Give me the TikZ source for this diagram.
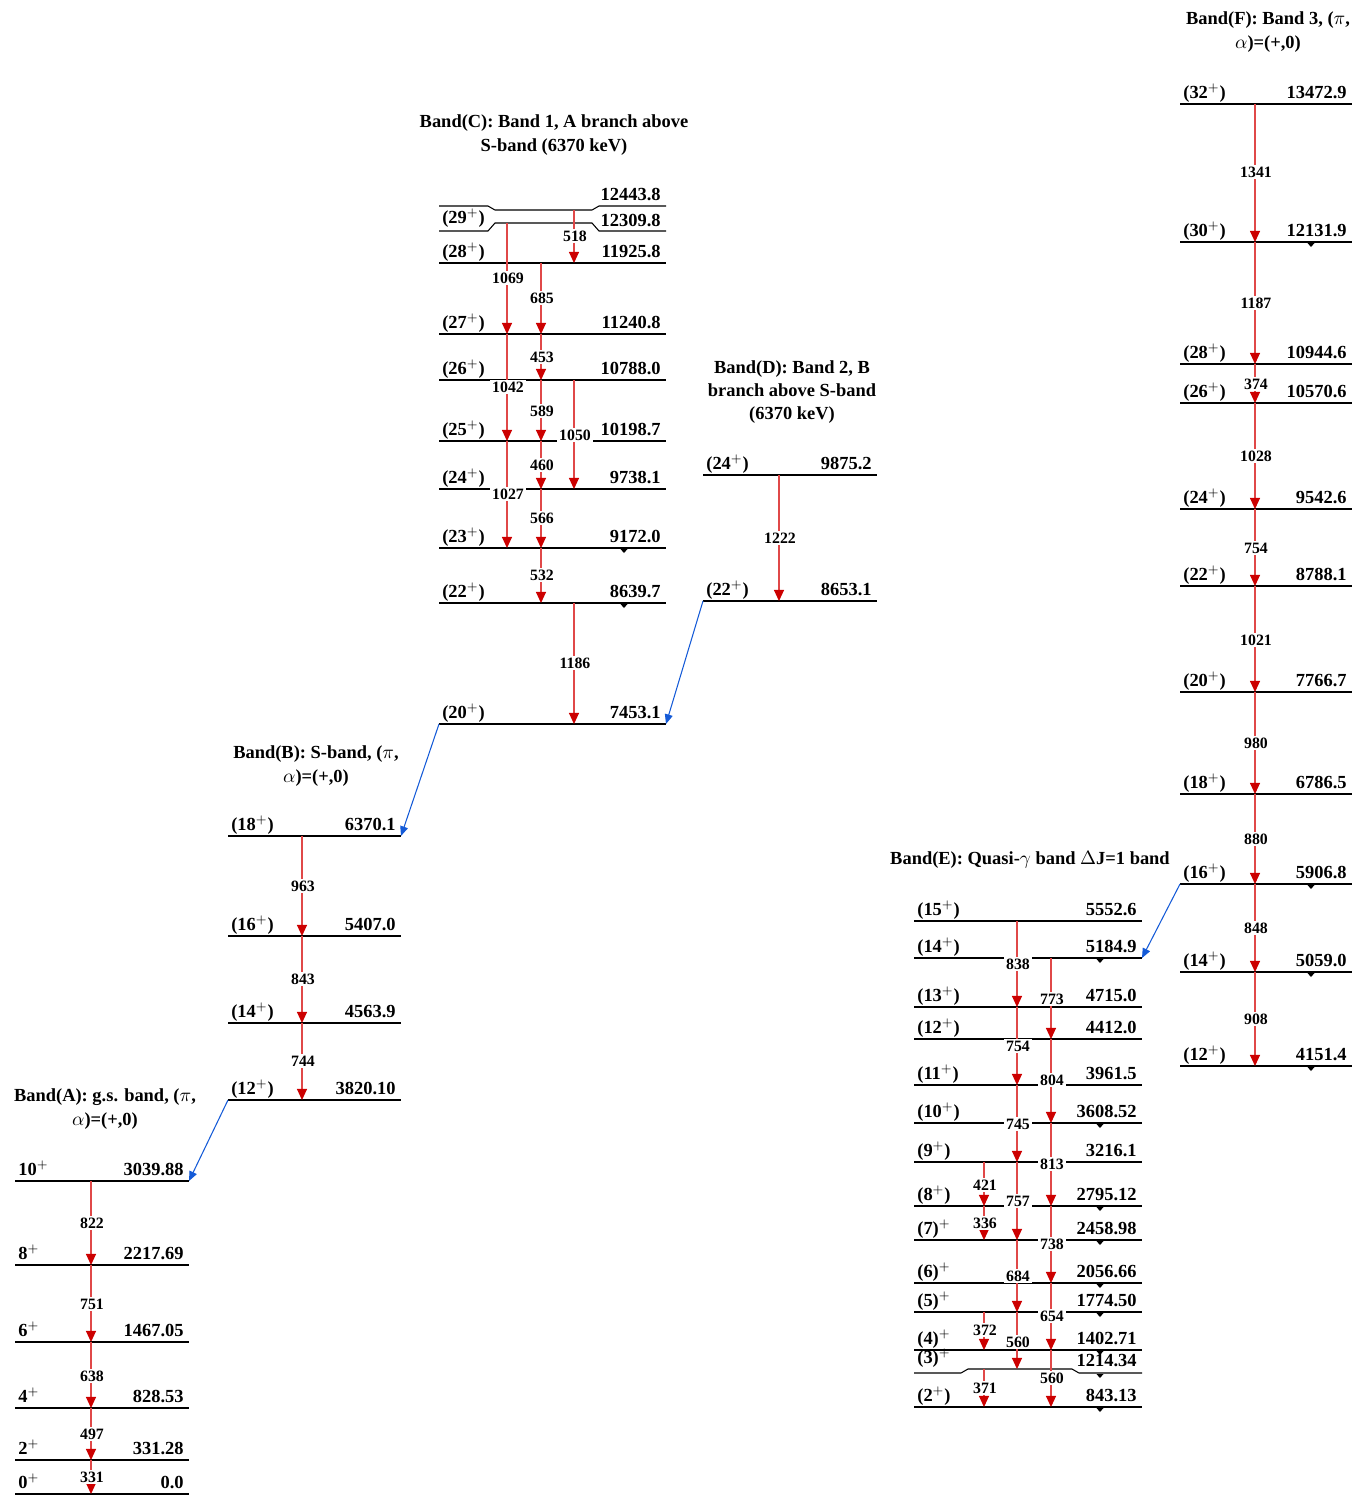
\documentclass[tikz,border=0pt]{standalone}
\usepackage{fontspec}
\setmainfont{Liberation Serif}
\usetikzlibrary{arrows.meta}

\definecolor{gline}{RGB}{224,72,72}
\definecolor{ghead}{RGB}{204,0,0}
\definecolor{lblue}{RGB}{20,90,215}

% level: name, x left, x right, y, spin, energy
\newcommand{\lev}[6]{%
  \draw[lvl] (#2,#4) coordinate (#1l) -- (#3,#4) coordinate (#1r);
  \node[spin] (#1s) at (#2+3,#4-6) {#5};
  \node[en] (#1e) at (#3-5,#4-6) {#6};}
% transition: x, from, to, label y, label
\newcommand{\gam}[5]{%
  \draw[gam] (#1,0 |- #2) -- (#1,0 |- #3);
  \node[glab] (g#1-#4) at (#1+1,#4) {#5};}
% small marker under a level
\newcommand{\mk}[2]{\fill (#1,0 |- #2) ++(-3.5,1) -- ++(7,0) -- ++(-3.5,4) -- cycle;}

\begin{document}
\begin{tikzpicture}[x=0.02cm,y=-0.02cm,
    every node/.style={font=\bfseries\fontsize{10.5}{13.2}\selectfont},
    lvl/.style={line width=0.6pt},
    spin/.style={anchor=base west, inner sep=0pt},
    en/.style={anchor=base east, inner sep=0pt},
    ttl/.style={align=center, inner sep=0pt},
    glab/.style={fill=white, inner sep=1pt, font=\bfseries\fontsize{9}{10}\selectfont},
    gam/.style={draw=gline, line width=0.6pt, -{Triangle[width=5.8pt,length=6.4pt,color=ghead]}},
    link/.style={draw=lblue, line width=0.6pt, -{Triangle[width=4.5pt,length=5.5pt,color=lblue]}}]
    \useasboundingbox (0,0) rectangle (1353,1495);

    % Band titles
    \node[ttl] (tA) at (105,1109) {Band(A): g.s. band, ($\pi$,\\$\alpha$)=(+,0)};
    \node[ttl] (tB) at (316,766) {Band(B): S-band, ($\pi$,\\$\alpha$)=(+,0)};
    \node[ttl] (tC) at (554,135) {Band(C): Band 1, A branch above\\S-band (6370 keV)};
    \node[ttl] (tD) at (792,392) {Band(D): Band 2, B\\branch above S-band\\(6370 keV)};
    \node[ttl] (tE) at (1030,860) {Band(E): Quasi-$\gamma$ band $\Delta$J=1 band};
    \node[ttl] (tF) at (1268,32) {Band(F): Band 3, ($\pi$,\\$\alpha$)=(+,0)};

    % Band A levels
    \lev{A10}{15}{189}{1181}{10$^+$}{3039.88}
    \lev{A8}{15}{189}{1265}{8$^+$}{2217.69}
    \lev{A6}{15}{189}{1342}{6$^+$}{1467.05}
    \lev{A4}{15}{189}{1408}{4$^+$}{828.53}
    \lev{A2}{15}{189}{1460}{2$^+$}{331.28}
    \lev{A0}{15}{189}{1494}{0$^+$}{0.0}

    % Band B levels
    \lev{B18}{228}{401}{836}{(18$^+$)}{6370.1}
    \lev{B16}{228}{401}{936}{(16$^+$)}{5407.0}
    \lev{B14}{228}{401}{1023}{(14$^+$)}{4563.9}
    \lev{B12}{228}{401}{1100}{(12$^+$)}{3820.10}

    % Band C levels, the two top ones pinched together
    \draw[lvl] (439,206) -- (488,206) -- (495,210) coordinate (C30m) -- (592,210) -- (599,206) -- (666,206);
    \draw[lvl] (439,231) -- (488,231) -- (495,223) coordinate (C29m) -- (592,223) -- (599,231) -- (666,231);
    \node[en] (C30e) at (661,200) {12443.8};
    \node[en] (C29e) at (661,226) {12309.8};
    \node[spin] (C29s) at (442,223) {(29$^+$)};
    \lev{C28}{439}{666}{263}{(28$^+$)}{11925.8}
    \lev{C27}{439}{666}{334}{(27$^+$)}{11240.8}
    \lev{C26}{439}{666}{380}{(26$^+$)}{10788.0}
    \lev{C25}{439}{666}{441}{(25$^+$)}{10198.7}
    \lev{C24}{439}{666}{489}{(24$^+$)}{9738.1}
    \lev{C23}{439}{666}{548}{(23$^+$)}{9172.0}
    \lev{C22}{439}{666}{603}{(22$^+$)}{8639.7}
    \lev{C20}{439}{666}{724}{(20$^+$)}{7453.1}

    % Band D levels
    \lev{D24}{703}{877}{475}{(24$^+$)}{9875.2}
    \lev{D22}{703}{877}{601}{(22$^+$)}{8653.1}

    % Band E levels
    \lev{E15}{914}{1142}{921}{(15$^+$)}{5552.6}
    \lev{E14}{914}{1142}{958}{(14$^+$)}{5184.9}
    \lev{E13}{914}{1142}{1007}{(13$^+$)}{4715.0}
    \lev{E12}{914}{1142}{1039}{(12$^+$)}{4412.0}
    \lev{E11}{914}{1142}{1085}{(11$^+$)}{3961.5}
    \lev{E10}{914}{1142}{1123}{(10$^+$)}{3608.52}
    \lev{E9}{914}{1142}{1162}{(9$^+$)}{3216.1}
    \lev{E8}{914}{1142}{1206}{(8$^+$)}{2795.12}
    \lev{E7}{914}{1142}{1240}{(7)$^+$}{2458.98}
    \lev{E6}{914}{1142}{1283}{(6)$^+$}{2056.66}
    \lev{E5}{914}{1142}{1312}{(5)$^+$}{1774.50}
    \lev{E4}{914}{1142}{1350}{(4)$^+$}{1402.71}
    \draw[lvl] (914,1373) coordinate (E3l) -- (961,1373) -- (968,1369) coordinate (E3m) -- (1072,1369) -- (1079,1373) -- (1142,1373) coordinate (E3r);
    \node[spin] (E3s) at (917,1363) {(3)$^+$};
    \node[en] (E3e) at (1137,1366) {1214.34};
    \lev{E2}{914}{1142}{1407}{(2$^+$)}{843.13}

    % Band F levels
    \lev{F32}{1180}{1352}{104}{(32$^+$)}{13472.9}
    \lev{F30}{1180}{1352}{242}{(30$^+$)}{12131.9}
    \lev{F28}{1180}{1352}{364}{(28$^+$)}{10944.6}
    \lev{F26}{1180}{1352}{403}{(26$^+$)}{10570.6}
    \lev{F24}{1180}{1352}{509}{(24$^+$)}{9542.6}
    \lev{F22}{1180}{1352}{586}{(22$^+$)}{8788.1}
    \lev{F20}{1180}{1352}{692}{(20$^+$)}{7766.7}
    \lev{F18}{1180}{1352}{794}{(18$^+$)}{6786.5}
    \lev{F16}{1180}{1352}{884}{(16$^+$)}{5906.8}
    \lev{F14}{1180}{1352}{972}{(14$^+$)}{5059.0}
    \lev{F12}{1180}{1352}{1066}{(12$^+$)}{4151.4}

    % Transitions, band A
    \gam{91}{A10l}{A8l}{1223}{822}
    \gam{91}{A8l}{A6l}{1304}{751}
    \gam{91}{A6l}{A4l}{1376}{638}
    \gam{91}{A4l}{A2l}{1434}{497}
    \gam{91}{A2l}{A0l}{1477}{331}

    % Transitions, band B
    \gam{302}{B18l}{B16l}{886}{963}
    \gam{302}{B16l}{B14l}{979}{843}
    \gam{302}{B14l}{B12l}{1061}{744}

    % Transitions, band C
    \gam{574}{C30m}{C28l}{236}{518}
    \gam{507}{C29m}{C27l}{278}{1069}
    \gam{541}{C28l}{C27l}{298}{685}
    \gam{541}{C27l}{C26l}{357}{453}
    \gam{507}{C27l}{C25l}{387}{1042}
    \gam{541}{C26l}{C25l}{411}{589}
    \gam{574}{C26l}{C24l}{435}{1050}
    \gam{541}{C25l}{C24l}{465}{460}
    \gam{507}{C25l}{C23l}{494}{1027}
    \gam{541}{C24l}{C23l}{518}{566}
    \gam{541}{C23l}{C22l}{575}{532}
    \gam{574}{C22l}{C20l}{663}{1186}

    % Transitions, band D
    \gam{779}{D24l}{D22l}{538}{1222}

    % Transitions, band E
    \gam{1017}{E15l}{E13l}{964}{838}
    \gam{1051}{E14l}{E12l}{999}{773}
    \gam{1017}{E13l}{E11l}{1046}{754}
    \gam{1051}{E12l}{E10l}{1080}{804}
    \gam{1017}{E11l}{E9l}{1124}{745}
    \gam{1051}{E10l}{E8l}{1164}{813}
    \gam{984}{E9l}{E8l}{1185}{421}
    \gam{1017}{E9l}{E7l}{1201}{757}
    \gam{984}{E8l}{E7l}{1223}{336}
    \gam{1051}{E8l}{E6l}{1244}{738}
    \gam{1017}{E7l}{E5l}{1276}{684}
    \gam{1051}{E6l}{E4l}{1316}{654}
    \gam{984}{E5l}{E4l}{1330}{372}
    \gam{1017}{E5l}{E3m}{1342}{560}
    \gam{1051}{E4l}{E2l}{1378}{560}
    \gam{984}{E3m}{E2l}{1388}{371}

    % Transitions, band F
    \gam{1255}{F32l}{F30l}{172}{1341}
    \gam{1255}{F30l}{F28l}{303}{1187}
    \gam{1255}{F28l}{F26l}{384}{374}
    \gam{1255}{F26l}{F24l}{456}{1028}
    \gam{1255}{F24l}{F22l}{548}{754}
    \gam{1255}{F22l}{F20l}{640}{1021}
    \gam{1255}{F20l}{F18l}{743}{980}
    \gam{1255}{F18l}{F16l}{839}{880}
    \gam{1255}{F16l}{F14l}{928}{848}
    \gam{1255}{F14l}{F12l}{1019}{908}

    % Links between bands
    \draw[link] (B12l) -- (A10r);
    \draw[link] (C20l) -- (B18r);
    \draw[link] (D22l) -- (C20r);
    \draw[link] (F16l) -- (E14r);

    % Markers
    \mk{624}{C23l} \mk{624}{C22l}
    \mk{1100}{E14l} \mk{1100}{E10l} \mk{1100}{E8l} \mk{1100}{E7l} \mk{1100}{E6l}
    \mk{1100}{E5l} \mk{1100}{E4l} \mk{1100}{E3l} \mk{1100}{E2l}
    \mk{1311}{F30l} \mk{1311}{F16l} \mk{1311}{F14l} \mk{1311}{F12l}
\end{tikzpicture}
\end{document}
